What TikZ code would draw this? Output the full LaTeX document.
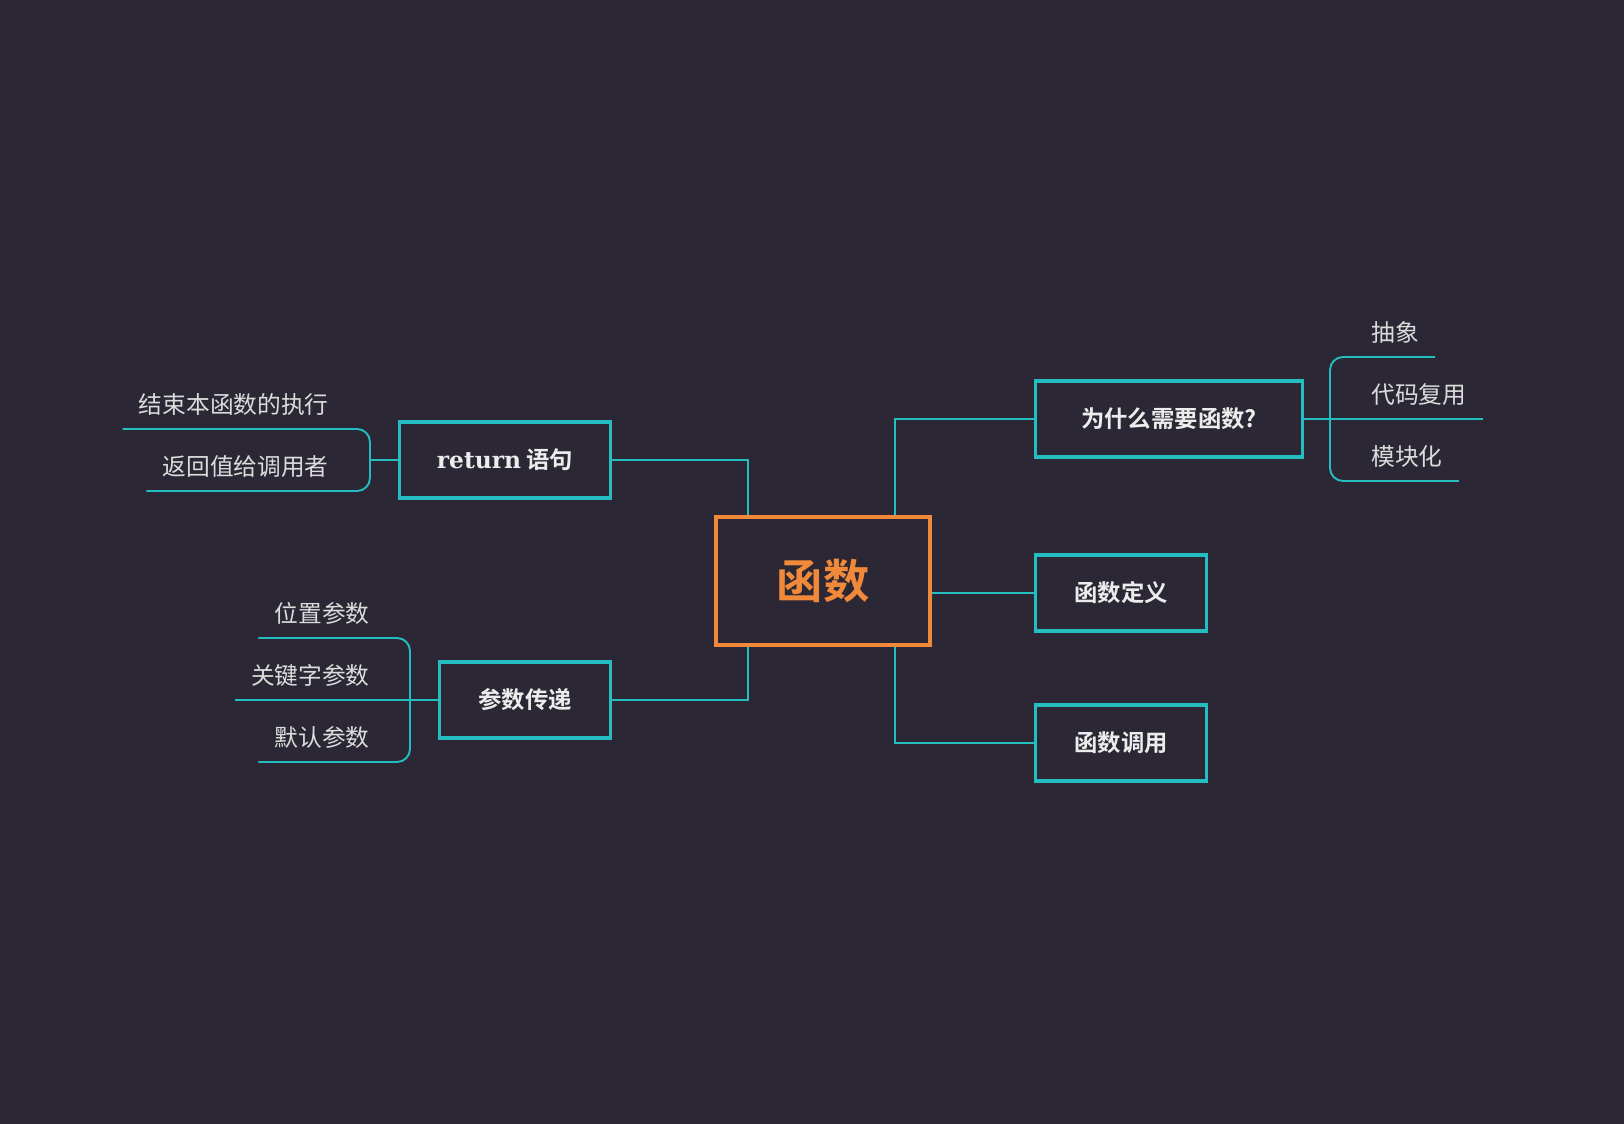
\documentclass[tikz,border=0pt]{standalone}
\usepackage{fontspec}
\newfontfamily\cjk{Noto Sans CJK SC}[BoldFont={Noto Sans CJK SC Bold}]
\newfontfamily\retfont{DejaVu Serif}
\usepackage{xcolor}
\usepackage{tikz}
\usetikzlibrary{calc}

\definecolor{bgdark}{HTML}{2C2734}
\definecolor{tealline}{HTML}{24BEC0}
\definecolor{rootorange}{HTML}{F0893A}
\definecolor{boxtext}{HTML}{ECECEC}
\definecolor{leaftext}{HTML}{DCDCDC}

\begin{document}
\begin{tikzpicture}[x=0.02cm,y=-0.02cm,
 link/.style={draw=tealline,line width=1.1pt},
 box/.style={draw=tealline,line width=1.8pt,text=boxtext,inner sep=0pt,
  minimum height=1.52cm,font=\cjk\bfseries\fontsize{13.3}{16}\selectfont},
 rootbox/.style={draw=rootorange,line width=2.2pt,text=rootorange,inner sep=0pt,
  minimum width=4.29cm,minimum height=2.55cm,font=\cjk\bfseries\fontsize{26.4}{30}\selectfont},
 leaf/.style={text=leaftext,inner xsep=0.32cm,inner ysep=0pt,text height=0.45cm,
  text depth=0.3cm,font=\cjk\fontsize{13.5}{16}\selectfont},
 leafL/.style={leaf,anchor=south east},
 leafR/.style={leaf,anchor=south west}]
 \fill[bgdark] (0,0) rectangle (1624,1124);

 \node[rootbox] (root) at (823,581) {函数};
 \node[box,minimum width=4.23cm] (ret) at (505,460) {{\retfont\bfseries return} 语句};
 \node[box,minimum width=3.42cm] (param) at (525,700) {参数传递};
 \node[box,minimum width=5.35cm] (why) at (1169,419) {为什么需要函数?};
 \node[box,minimum width=3.42cm] (def) at (1121,593) {函数定义};
 \node[box,minimum width=3.42cm] (call) at (1121,743) {函数调用};

 \node[leafL] (endf) at (345,429) {结束本函数的执行};
 \node[leafL] (retv) at (345,491) {返回值给调用者};
 \node[leafL] (pos) at (386,638) {位置参数};
 \node[leafL] (kw) at (386,700) {关键字参数};
 \node[leafL] (dft) at (386,762) {默认参数};
 \node[leafR] (abs) at (1355,357) {抽象};
 \node[leafR] (code) at (1355,419) {代码复用};
 \node[leafR] (mod) at (1355,481) {模块化};

 \coordinate (rb) at (370,460);
 \coordinate (pb) at (410,700);
 \coordinate (wb) at (1330,419);

 \draw[link] ($(root.north)+(-75,0)$) |- (ret.east);
 \draw[link] ($(root.south)+(-75,0)$) |- (param.east);
 \draw[link] ($(root.north)+(72,0)$) |- (why.west);
 \draw[link] (root.east |- def.west) -- (def.west);
 \draw[link] ($(root.south)+(72,0)$) |- (call.west);

 \draw[link] (ret.west) -- (ret.west -| rb);
 \draw[link,rounded corners=0.26cm] (endf.south west) -- (endf.south -| rb)
  -- (retv.south -| rb) -- (retv.south west);
 \draw[link] (param.west) -- (kw.south west);
 \draw[link,rounded corners=0.26cm] (pos.south west) -- (pos.south -| pb)
  -- (dft.south -| pb) -- (dft.south west);
 \draw[link] (why.east) -- (code.south east);
 \draw[link,rounded corners=0.26cm] (abs.south east) -- (abs.south -| wb)
  -- (mod.south -| wb) -- (mod.south east);
\end{tikzpicture}
\end{document}
